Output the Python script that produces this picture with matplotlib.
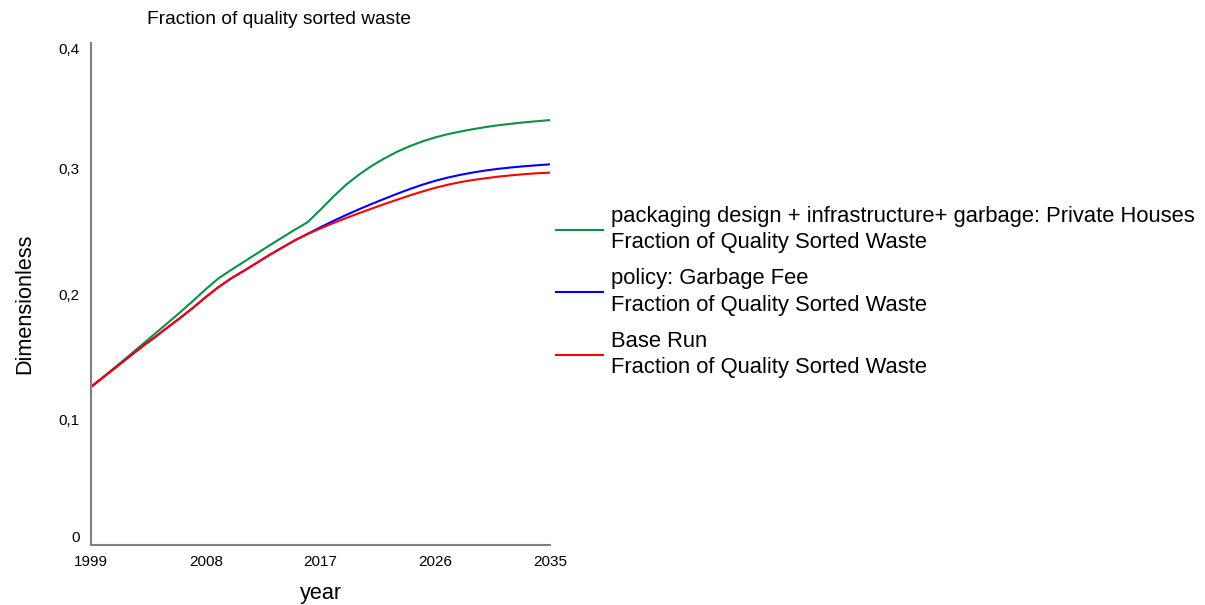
import matplotlib
matplotlib.use("Agg")
import matplotlib.pyplot as plt

plt.rcParams['font.family'] = ['Liberation Sans', 'DejaVu Sans']

years = list(range(1999, 2036))

base_run = [0.1260, 0.1340, 0.1420, 0.1500, 0.1580, 0.1655, 0.1733, 0.1810, 0.1890, 0.1975,
            0.2055, 0.2125, 0.2185, 0.2248, 0.2311, 0.2370, 0.2428, 0.2478, 0.2523, 0.2565,
            0.2605, 0.2643, 0.2680, 0.2716, 0.2751, 0.2785, 0.2817, 0.2846, 0.2871, 0.2892,
            0.2909, 0.2923, 0.2936, 0.2946, 0.2955, 0.2962, 0.2967]

garbage_fee = [0.1260, 0.1340, 0.1420, 0.1500, 0.1580, 0.1655, 0.1733, 0.1810, 0.1890, 0.1975,
               0.2055, 0.2125, 0.2185, 0.2248, 0.2311, 0.2370, 0.2428, 0.2480, 0.2532, 0.2582,
               0.2629, 0.2674, 0.2717, 0.2758, 0.2798, 0.2836, 0.2871, 0.2902, 0.2928, 0.2950,
               0.2969, 0.2985, 0.2998, 0.3009, 0.3018, 0.3026, 0.3033]

packaging = [0.1260, 0.1340, 0.1425, 0.1510, 0.1596, 0.1682, 0.1768, 0.1855, 0.1945, 0.2038,
             0.2125, 0.2192, 0.2257, 0.2322, 0.2387, 0.2450, 0.2513, 0.2573, 0.2672, 0.2775,
             0.2870, 0.2950, 0.3020, 0.3080, 0.3133, 0.3178, 0.3216, 0.3248, 0.3274, 0.3295,
             0.3314, 0.3331, 0.3345, 0.3357, 0.3368, 0.3377, 0.3386]

labels = ["packaging design + infrastructure+ garbage: Private Houses\nFraction of Quality Sorted Waste",
          "policy: Garbage Fee\nFraction of Quality Sorted Waste",
          "Base Run\nFraction of Quality Sorted Waste"]
colors = ["#0a9048", "#0000ff", "#ff0000"]

x_ticks = [1999, 2008, 2017, 2026, 2035]
y_ticks = [0, 0.1, 0.2, 0.3, 0.4]
y_tick_labels = ["0", "0,1", "0,2", "0,3", "0,4"]

fig = plt.figure(figsize=(12.05, 6.05), dpi=100)
ax = fig.add_axes([91/1205, 1-545/605, (550-91)/1205, (545-43)/605])

lines = []
for series, lab, col in zip([packaging, garbage_fee, base_run], labels, colors):
    ln, = ax.plot(years, series, color=col, lw=1.5, label=lab)
    lines.append(ln)

ax.set_xlim(1999, 2035)
ax.set_ylim(0, 0.4)
ax.set_xticks(x_ticks)
ax.set_xticklabels([str(t) for t in x_ticks], fontsize=11)
ax.set_yticks(y_ticks)
ax.set_yticklabels(y_tick_labels, fontsize=11)
ax.tick_params(axis='y', length=0, pad=8)
ax.tick_params(axis='x', length=0, pad=7)
ylabs = ax.get_yticklabels()
ylabs[0].set_va('bottom')
ylabs[-1].set_va('top')

for s in ['top', 'right']:
    ax.spines[s].set_visible(False)
for s in ['left', 'bottom']:
    ax.spines[s].set_color('#808080')
    ax.spines[s].set_linewidth(1.5)

ax.set_xlabel("year", fontsize=15.6)
ax.xaxis.set_label_coords(0.5, (545-593)/502)
ax.xaxis.label.set_va('center')
ax.set_ylabel("Dimensionless", fontsize=15.6)
ax.yaxis.set_label_coords((25-91)/459, (545-303.5)/502)
ax.yaxis.label.set_va('center')

fig.text(279/1205, 1-20/605, "Fraction of quality sorted waste", fontsize=13.75,
         ha='center', va='center')

leg = fig.legend(handles=lines, loc='center left', bbox_to_anchor=(556/1205, 1-292/605),
                 frameon=False, fontsize=15.85, handlelength=2.15, handletextpad=0.35,
                 labelspacing=0.67, borderaxespad=0, borderpad=0)
for t in leg.get_texts():
    t.set_linespacing(1.36)

fig.savefig("out.png", dpi=100)
